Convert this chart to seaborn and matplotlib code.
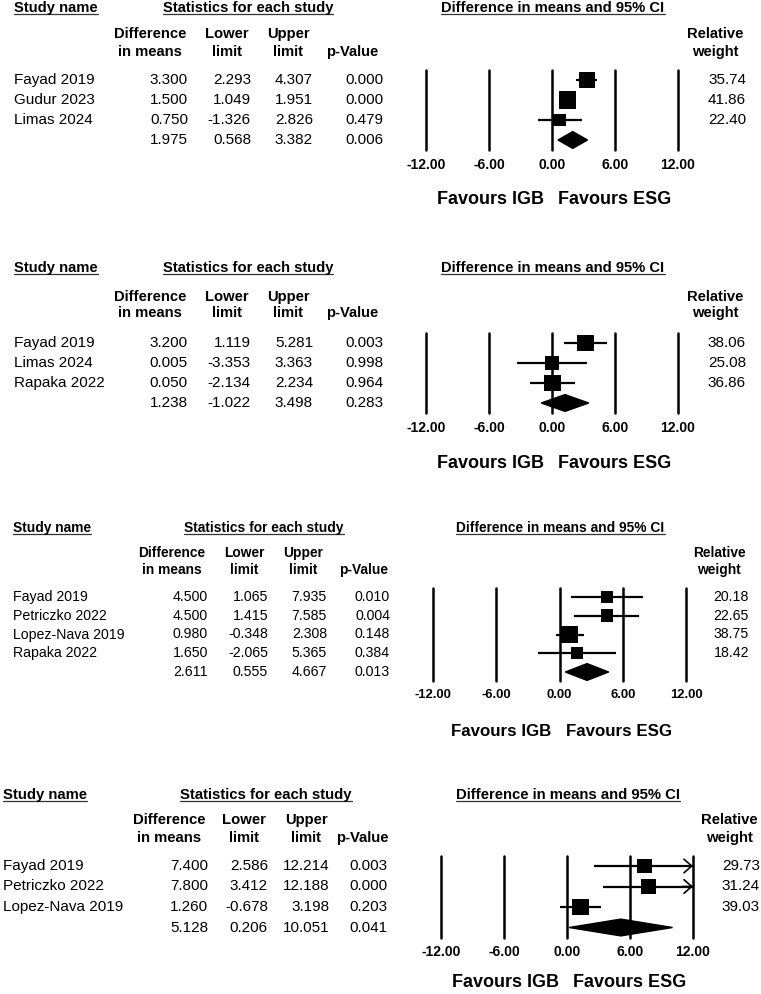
import seaborn as sns
import matplotlib.pyplot as plt
import numpy as np
from matplotlib.patches import Polygon
from matplotlib.lines import Line2D

# forest plot panels

p1_studies = ["Fayad 2019", "Gudur 2023", "Limas 2024"]
p1_diff = [3.300, 1.500, 0.750]
p1_lower = [2.293, 1.049, -1.326]
p1_upper = [4.307, 1.951, 2.826]
p1_pval = [0.000, 0.000, 0.479]
p1_weight = [35.74, 41.86, 22.40]
p1_pooled = [1.975, 0.568, 3.382, 0.006]

p2_studies = ["Fayad 2019", "Limas 2024", "Rapaka 2022"]
p2_diff = [3.200, 0.005, 0.050]
p2_lower = [1.119, -3.353, -2.134]
p2_upper = [5.281, 3.363, 2.234]
p2_pval = [0.003, 0.998, 0.964]
p2_weight = [38.06, 25.08, 36.86]
p2_pooled = [1.238, -1.022, 3.498, 0.283]

p3_studies = ["Fayad 2019", "Petriczko 2022", "Lopez-Nava 2019", "Rapaka 2022"]
p3_diff = [4.500, 4.500, 0.980, 1.650]
p3_lower = [1.065, 1.415, -0.348, -2.065]
p3_upper = [7.935, 7.585, 2.308, 5.365]
p3_pval = [0.010, 0.004, 0.148, 0.384]
p3_weight = [20.18, 22.65, 38.75, 18.42]
p3_pooled = [2.611, 0.555, 4.667, 0.013]

p4_studies = ["Fayad 2019", "Petriczko 2022", "Lopez-Nava 2019"]
p4_diff = [7.400, 7.800, 1.260]
p4_lower = [2.586, 3.412, -0.678]
p4_upper = [12.214, 12.188, 3.198]
p4_pval = [0.003, 0.000, 0.203]
p4_weight = [29.73, 31.24, 39.03]
p4_pooled = [5.128, 0.206, 10.051, 0.041]

ticks = [-12, -6, 0, 6, 12]
col_heads = [("Difference", "in means"), ("Lower", "limit"), ("Upper", "limit"), ("", "p-Value")]
rw_head = ("Relative", "weight")
left_label = "Favours IGB"
right_label = "Favours ESG"

W, H = 761, 994

# layouts in pixels (panel placement only)
lay1 = dict(title_y=8, head_y=(34, 52), row0=80, step=20, x_lo=426, x_hi=678, name_x=14,
            stats_c=248, val_r=[188, 251, 313, 383], head_c=[150, 227, 288, 352],
            rw_c=715, rw_r=746, fs=11, fsb=10.6, fsf=13, fst=10, fav_off=50)
lay2 = dict(lay1, title_y=268, head_y=(297, 313), row0=343, step=20)
lay3 = dict(title_y=528, head_y=(553, 570), row0=597, step=18.75, x_lo=433, x_hi=686, name_x=13,
            stats_c=264, val_r=[208, 268, 327, 390], head_c=[172, 244, 303, 364],
            rw_c=719, rw_r=749, fs=10.2, fsb=9.9, fsf=12.2, fst=9.4, fav_off=50)
lay4 = dict(title_y=795, head_y=(820, 838), row0=866, step=20.5, x_lo=441, x_hi=693, name_x=3,
            stats_c=266, val_r=[208, 268, 330, 388], head_c=[169, 244, 306, 362],
            rw_c=729, rw_r=760, fs=11, fsb=10.7, fsf=13, fst=10, fav_off=45)

sns.set_theme(style="white")
plt.rcParams['font.family'] = ['Liberation Sans', 'DejaVu Sans']

fig = plt.figure(figsize=(W/100, H/100), dpi=100)
underlined = []


def ftext(x, y, s, **kw):
    return fig.text(x/W, 1-y/H, s, color="black", **kw)


def draw_panel(studies, diff, lower, upper, pval, weight, pooled, L):
    n = len(studies)
    rows = np.arange(n)
    top = L['row0'] - L['step']/2
    bot = L['row0'] + L['step']*(n+0.5)
    ax = fig.add_axes([L['x_lo']/W, 1-bot/H, (L['x_hi']-L['x_lo'])/W, (bot-top)/H])
    ax.patch.set_alpha(0)
    for t in ticks:
        ax.axvline(t, color="black", lw=1.8, zorder=1, clip_on=False)
    lo = np.maximum(lower, -12)
    hi = np.minimum(upper, 12)
    ax.hlines(rows, lo, hi, color="black", lw=1.6, zorder=2)
    for i in range(n):
        if upper[i] > 12:
            ax.annotate("", xy=(12, i), xytext=(11, i),
                        arrowprops=dict(arrowstyle="->,head_length=0.4,head_width=0.35",
                                        lw=1.2, color="black", mutation_scale=14,
                                        shrinkA=0, shrinkB=0))
    sns.scatterplot(x=diff, y=rows, size=weight, sizes=(0, 378), size_norm=(0, 100),
                    marker="s", color="black", linewidth=0, legend=False, ax=ax, zorder=3)
    est, plo, phi = pooled[0], pooled[1], pooled[2]
    dh = 0.42 * 20 / L['step']
    ax.add_patch(Polygon([(plo, n), (est, n-dh), (phi, n), (est, n+dh)],
                         closed=True, facecolor="black", edgecolor="black", zorder=3))
    ax.set_xlim(-12, 12)
    ax.set_ylim(n+0.5, -0.5)
    ax.set_xticks(ticks)
    ax.set_xticklabels([f"{t:.2f}" for t in ticks], fontweight="bold", fontsize=L['fst'])
    ax.tick_params(axis="x", length=0, pad=5.5, colors="black")
    ax.set_yticks([])
    ax.set_xlabel("")
    ax.set_ylabel("")
    for sp in ax.spines.values():
        sp.set_visible(False)

    # headers
    underlined.append(ftext(L['name_x'], L['title_y'], "Study name", fontsize=L['fsb'],
                            fontweight="bold", ha="left", va="center"))
    underlined.append(ftext(L['stats_c'], L['title_y'], "Statistics for each study",
                            fontsize=L['fsb'], fontweight="bold", ha="center", va="center"))
    x0 = (L['x_lo'] + L['x_hi']) / 2
    underlined.append(ftext(x0 + 1, L['title_y'], "Difference in means and 95% CI",
                            fontsize=L['fsb'], fontweight="bold", ha="center", va="center"))
    for (a, b), c in zip(col_heads, L['head_c']):
        ftext(c, L['head_y'][0], a, fontsize=L['fsb'], fontweight="bold", ha="center", va="center")
        ftext(c, L['head_y'][1], b, fontsize=L['fsb'], fontweight="bold", ha="center", va="center")
    ftext(L['rw_c'], L['head_y'][0], rw_head[0], fontsize=L['fsb'], fontweight="bold",
          ha="center", va="center")
    ftext(L['rw_c'], L['head_y'][1], rw_head[1], fontsize=L['fsb'], fontweight="bold",
          ha="center", va="center")

    # table rows
    for i in range(n):
        y = L['row0'] + i*L['step']
        ftext(L['name_x'], y, studies[i], fontsize=L['fs'], ha="left", va="center")
        for v, r in zip([diff[i], lower[i], upper[i], pval[i]], L['val_r']):
            ftext(r, y, f"{v:.3f}", fontsize=L['fs'], ha="right", va="center")
        ftext(L['rw_r'], y, f"{weight[i]:.2f}", fontsize=L['fs'], ha="right", va="center")
    y = L['row0'] + n*L['step']
    for v, r in zip(pooled, L['val_r']):
        ftext(r, y, f"{v:.3f}", fontsize=L['fs'], ha="right", va="center")

    fy = bot + L['fav_off']
    ftext(x0 - 8, fy, left_label, fontsize=L['fsf'], fontweight="bold", ha="right", va="center")
    ftext(x0 + 6, fy, right_label, fontsize=L['fsf'], fontweight="bold", ha="left", va="center")


draw_panel(p1_studies, p1_diff, p1_lower, p1_upper, p1_pval, p1_weight, p1_pooled, lay1)
draw_panel(p2_studies, p2_diff, p2_lower, p2_upper, p2_pval, p2_weight, p2_pooled, lay2)
draw_panel(p3_studies, p3_diff, p3_lower, p3_upper, p3_pval, p3_weight, p3_pooled, lay3)
draw_panel(p4_studies, p4_diff, p4_lower, p4_upper, p4_pval, p4_weight, p4_pooled, lay4)

fig.canvas.draw()
r = fig.canvas.get_renderer()
for t in underlined:
    bb = t.get_window_extent(r)
    yy = (bb.y0 + 1) / fig.bbox.height
    fig.add_artist(Line2D([bb.x0/fig.bbox.width, bb.x1/fig.bbox.width], [yy, yy],
                          transform=fig.transFigure, color="#333333", lw=0.9))

fig.savefig("out.png", dpi=100, facecolor="white")
